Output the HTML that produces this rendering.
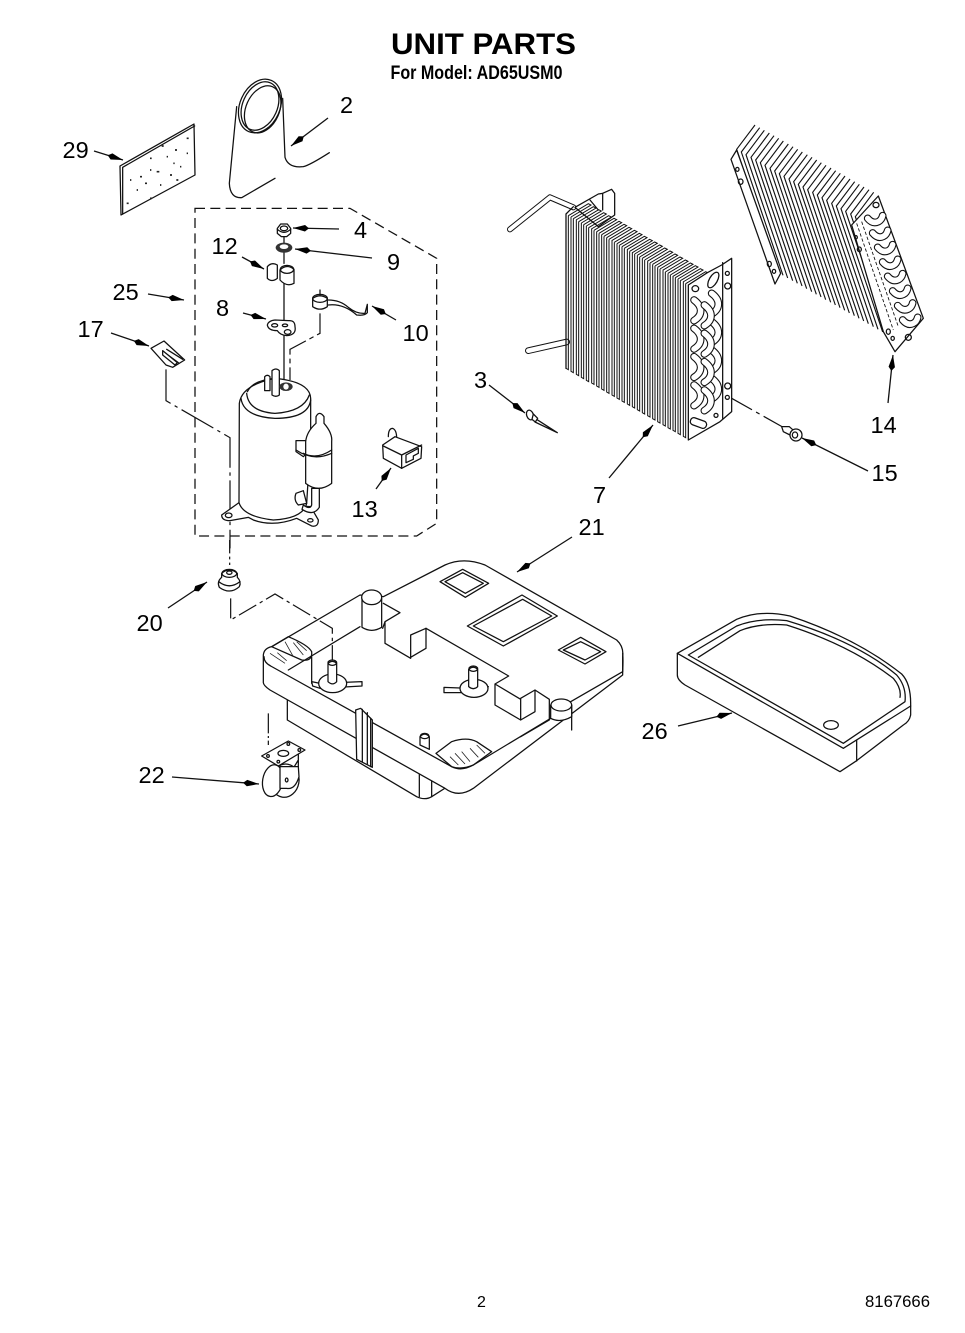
<!DOCTYPE html>
<html><head><meta charset="utf-8"><title>Unit Parts</title>
<style>
html,body{margin:0;padding:0;background:#fff;width:965px;height:1333px;overflow:hidden}
svg{display:block;filter:blur(.35px)}
text{font-family:"Liberation Sans",sans-serif;fill:#000}
.n{font-size:23.5px}
.d{fill:none;stroke:#111;stroke-width:3.8;stroke-linejoin:round;stroke-linecap:round}
.w{fill:#fff;stroke:#111;stroke-width:3.8;stroke-linejoin:round;stroke-linecap:round}
.a{fill:none;stroke:#111;stroke-width:1.3}
.l{fill:none;stroke:#111;stroke-width:3.6}
</style></head><body>
<svg xmlns="http://www.w3.org/2000/svg" width="965" height="1333" viewBox="0 0 965 1333">
<defs>
<marker id="h" markerUnits="userSpaceOnUse" markerWidth="18" markerHeight="10" refX="16" refY="5" orient="auto"><path d="M0 5 L4 1.8 L16 5 L4 8.2 Z" fill="#000"/></marker>
<path id="f7" d="M0 0 V463 l7 4 V5 M7 5 l60 -36 l8 4 l-60 36" fill="none" stroke="#111" stroke-width="3"/>
<path id="f14" d="M0 0 l-55 73 l125 370" fill="none" stroke="#111" stroke-width="3.4"/>
<g id="c"><path d="M0 0 Q20 15 20 32 Q20 50 0 62" fill="none" stroke="#111" stroke-width="23" stroke-linecap="round"/><path d="M0 0 Q20 15 20 32 Q20 50 0 62" fill="none" stroke="#fff" stroke-width="16.5" stroke-linecap="round"/></g>
<g id="k"><path d="M0 0 Q15 18 32 10 Q42 5 45 -8" fill="none" stroke="#111" stroke-width="23" stroke-linecap="round"/><path d="M0 0 Q15 18 32 10 Q42 5 45 -8" fill="none" stroke="#fff" stroke-width="16.5" stroke-linecap="round"/></g>
</defs>
<rect width="965" height="1333" fill="#fff"/>

<!-- headings -->
<text x="391" y="54" font-size="30" font-weight="700" textLength="185" lengthAdjust="spacingAndGlyphs">UNIT PARTS</text>
<text x="390.5" y="79" font-size="19" font-weight="700" textLength="172" lengthAdjust="spacingAndGlyphs">For Model: AD65USM0</text>
<text x="477" y="1307" font-size="16">2</text>
<text x="865" y="1307" font-size="16.5" textLength="65" lengthAdjust="spacingAndGlyphs">8167666</text>

<!-- ZONE 1 -->
<g transform="translate(40,70) scale(.33333)">
 <!-- hose -->
 <path class="d" d="M590 110 L568 340 Q570 385 605 383 L705 325"/>
 <path class="d" d="M728 85 L735 262 Q745 295 790 290 Q810 285 868 248"/>
 <ellipse class="w" cx="660" cy="108" rx="60" ry="84" transform="rotate(24 660 108)"/>
 <ellipse class="d" cx="668" cy="118" rx="50" ry="74" transform="rotate(24 668 118)"/>
 <ellipse class="d" cx="660" cy="108" rx="52" ry="76" transform="rotate(24 660 108)"/>
 <!-- panel 29 -->
 <path class="w" d="M240 288 L462 162 L465 315 L243 435 Z"/>
 <path class="d" d="M248 292 L464 168 M248 292 V432"/>
 <path d="M330 265h5M365 228h6M405 240h6M440 205h6M300 320h6M350 305h8M415 330h-6M260 400h6M330 385h6M390 315h6M440 250h4M290 360h4M360 345h4M400 280h4M315 340h6M420 290h4M270 330h4M330 300h4M380 260h4" stroke="#222" stroke-width="5" fill="none"/>
 <!-- dashed box -->
 <path d="M465 415 H930 L1190 565 V1360 L1130 1398 H465 Z" fill="none" stroke="#111" stroke-width="3.8" stroke-dasharray="30 16"/>
 <!-- rod and connectors -->
 <path class="d" d="M732 495 V580 M732 640 V930" stroke-width="5"/>
 <path class="l" d="M840 730 V790 L750 838 V930" stroke-dasharray="70 12 14 12"/>
 <path class="l" d="M378 898 V992 L570 1103 V1435" stroke-dasharray="110 14 10 14"/>
 <!-- nut 4 -->
 <path class="w" d="M712 475 L722 462 H742 L752 475 V490 L740 500 H724 L712 490 Z"/>
 <ellipse class="d" cx="732" cy="475" rx="11" ry="7"/>
 <path class="d" d="M712 478 Q732 496 752 478"/>
 <!-- washer 9 -->
 <ellipse cx="732" cy="533" rx="25" ry="15" fill="#333"/>
 <ellipse cx="732" cy="530" rx="13" ry="7" fill="#fff"/>
 <!-- 12 -->
 <path class="w" d="M682 590 Q695 575 712 585 V625 Q695 638 682 625 Z"/>
 <path class="w" d="M720 600 Q740 580 762 598 V640 Q740 652 720 630 Z"/>
 <ellipse class="d" cx="741" cy="598" rx="20" ry="12"/>
 <!-- 8 -->
 <path class="w" d="M682 765 Q685 752 705 750 L745 752 Q765 750 765 770 Q770 795 740 797 Q720 795 712 782 Q685 782 682 765 Z"/>
 <ellipse class="d" cx="704" cy="766" rx="9" ry="5"/><ellipse class="d" cx="735" cy="766" rx="8" ry="4"/><ellipse class="d" cx="743" cy="786" rx="10" ry="7"/>
 <!-- 10 -->
 <path class="d" d="M865 690 Q900 690 925 712 Q950 732 975 730 L982 703 V728 Q975 738 950 735 Q910 700 865 705" />
 <path class="w" d="M818 685 Q840 670 862 685 V710 Q840 725 818 710 Z"/>
 <ellipse class="d" cx="840" cy="685" rx="22" ry="12"/>
 <path class="d" d="M840 660 V675"/>
 <!-- 17 -->
 <path class="w" d="M333 835 L372 813 L434 870 L398 892 L378 885 Z"/>
 <path class="d" d="M370 845 L415 878 M380 838 L428 868"/>
 <path class="w" d="M368 842 V855 L405 885 L412 878 Z" stroke-width="3"/>
 <!-- compressor base -->
 <path class="w" d="M545 1335 L597 1298 L812 1310 L835 1350 Q835 1372 815 1368 L770 1345 Q700 1372 640 1350 L625 1342 L570 1352 Q545 1352 545 1335 Z"/>
 <ellipse class="d" cx="566" cy="1336" rx="10" ry="7"/><ellipse class="d" cx="811" cy="1351" rx="8" ry="5"/>
 <path class="w" d="M598 1000 Q605 945 705 925 Q810 935 812 985 V1105 L800 1300 Q790 1345 700 1350 Q610 1340 597 1298 Z"/>
 <path class="d" d="M603 985 Q610 1040 705 1045 Q805 1045 812 990"/>
 <path class="d" d="M620 970 Q625 1025 705 1030 Q790 1025 808 975"/>
 <path class="d" d="M622 965 Q640 930 705 925"/>
 <path class="w" d="M674 920 Q682 912 690 920 V962 H674 Z"/>
 <path class="w" d="M696 902 Q708 892 718 902 V975 Q708 983 696 975 Z"/>
 <ellipse cx="738" cy="950" rx="20" ry="13" fill="#333"/><ellipse cx="738" cy="950" rx="8" ry="9" fill="#fff"/>
 <!-- accumulator -->
 <path class="w" d="M815 1255 L815 1305 Q810 1320 790 1305 L786 1318 Q820 1340 838 1312 V1255 Z"/>
 <path class="w" d="M768 1270 L790 1262 L800 1300 L775 1305 Q760 1290 768 1270 Z"/>
 <path class="w" d="M768 1112 L800 1112 V1150 L790 1160 L768 1145 Z"/>
 <path class="w" d="M828 1040 Q838 1020 852 1040 V1060 Q878 1090 875 1115 V1240 Q835 1270 797 1240 V1115 Q800 1085 828 1060 Z"/>
 <path class="d" d="M768 1140 Q820 1175 875 1150 M790 1150 Q830 1170 875 1140"/>
 <!-- 13 plug -->
 <path class="d" d="M1045 1100 Q1045 1075 1058 1075 Q1070 1080 1070 1105"/>
 <path class="w" d="M1028 1125 L1065 1100 L1145 1130 L1143 1165 L1085 1195 L1030 1165 Z"/>
 <path class="d" d="M1030 1128 L1085 1155 L1145 1125 M1085 1155 V1195"/>
 <path class="d" d="M1098 1155 L1135 1135 V1150 L1120 1158 V1168 L1098 1178 Z"/>
</g>

<!-- ZONE 2 -->
<g transform="translate(470,110) scale(.33333)">
 <!-- tubes -->
 <path d="M120 358 L240 262 L310 292" fill="none" stroke="#111" stroke-width="18" stroke-linecap="round" stroke-linejoin="round"/>
 <path d="M120 358 L240 262 L310 292" fill="none" stroke="#fff" stroke-width="12" stroke-linecap="round" stroke-linejoin="round"/>
 <path d="M175 722 L290 696" fill="none" stroke="#111" stroke-width="20" stroke-linecap="round"/>
 <path d="M175 722 L290 696" fill="none" stroke="#fff" stroke-width="14" stroke-linecap="round"/>
 <!-- back brackets -->
 <path class="w" d="M315 292 L385 252 L398 250 L425 238 L434 250 V315 L385 350 Z"/>
 <path class="d" d="M360 270 L385 300 M398 250 V300"/>
 <!-- coil 7 fins -->
 <use href="#f7" x="288" y="312"/><use href="#f7" x="303" y="321"/><use href="#f7" x="319" y="330"/><use href="#f7" x="334" y="339"/><use href="#f7" x="349" y="348"/><use href="#f7" x="365" y="356"/><use href="#f7" x="380" y="365"/><use href="#f7" x="395" y="374"/><use href="#f7" x="410" y="383"/><use href="#f7" x="426" y="392"/><use href="#f7" x="441" y="401"/><use href="#f7" x="456" y="410"/><use href="#f7" x="472" y="419"/><use href="#f7" x="487" y="427"/><use href="#f7" x="502" y="436"/><use href="#f7" x="517" y="445"/><use href="#f7" x="533" y="454"/><use href="#f7" x="548" y="463"/><use href="#f7" x="563" y="472"/><use href="#f7" x="579" y="481"/><use href="#f7" x="594" y="490"/><use href="#f7" x="609" y="498"/><use href="#f7" x="624" y="507"/><use href="#f7" x="640" y="516"/>
 <path class="d" d="M288 775 V312 M288 312 L310 290"/>
 <!-- coil 7 end plate -->
 <path class="w" d="M655 525 L712 488 L755 465 L785 445 V905 L750 935 L655 990 Z"/>
 <path class="d" d="M758 458 V925"/>
 <ellipse class="d" cx="730" cy="510" rx="12" ry="26" transform="rotate(30 730 510)"/>
 <ellipse class="d" cx="676" cy="536" rx="10" ry="9"/><ellipse class="d" cx="772" cy="490" rx="6" ry="6"/><ellipse class="d" cx="773" cy="528" rx="9" ry="9"/>
 <ellipse class="d" cx="773" cy="828" rx="9" ry="9"/><ellipse class="d" cx="772" cy="862" rx="6" ry="6"/><ellipse class="d" cx="738" cy="916" rx="6" ry="6"/>
 <rect class="d" x="660" y="928" width="50" height="22" rx="10" transform="rotate(20 685 940)"/>
 <use href="#c" x="725" y="550"/><use href="#c" x="725" y="635"/><use href="#c" x="725" y="720"/><use href="#c" x="725" y="805"/>
 <use href="#c" x="672" y="570"/><use href="#c" x="672" y="655"/><use href="#c" x="672" y="740"/><use href="#c" x="672" y="825"/>
 <use href="#c" x="703" y="585"/><use href="#c" x="703" y="670"/><use href="#c" x="703" y="755"/><use href="#c" x="703" y="840"/>
 <!-- coil 14 fins -->
 <use href="#f14" x="855" y="45"/><use href="#f14" x="869" y="53"/><use href="#f14" x="883" y="61"/><use href="#f14" x="898" y="69"/><use href="#f14" x="912" y="77"/><use href="#f14" x="926" y="85"/><use href="#f14" x="940" y="93"/><use href="#f14" x="955" y="102"/><use href="#f14" x="969" y="110"/><use href="#f14" x="983" y="118"/><use href="#f14" x="997" y="126"/><use href="#f14" x="1012" y="134"/><use href="#f14" x="1026" y="142"/><use href="#f14" x="1040" y="150"/><use href="#f14" x="1054" y="158"/><use href="#f14" x="1068" y="166"/><use href="#f14" x="1083" y="174"/><use href="#f14" x="1097" y="182"/><use href="#f14" x="1111" y="190"/><use href="#f14" x="1125" y="198"/><use href="#f14" x="1140" y="207"/><use href="#f14" x="1154" y="215"/><use href="#f14" x="1168" y="223"/><use href="#f14" x="1182" y="231"/><use href="#f14" x="1197" y="239"/><use href="#f14" x="1211" y="247"/>
 <!-- left bracket -->
 <path class="w" d="M783 148 L800 120 L932 490 L915 522 Z"/>
 <ellipse class="d" cx="802" cy="178" rx="5" ry="6"/><ellipse class="d" cx="812" cy="215" rx="7" ry="8"/><ellipse class="d" cx="898" cy="462" rx="6" ry="8"/><ellipse class="d" cx="912" cy="484" rx="5" ry="6"/>
 <!-- right plate -->
 <path class="w" d="M1225 258 L1360 625 L1275 725 L1240 665 L1145 345 Z"/>
 <path d="M1160 340 L1270 660 M1175 335 L1285 650" fill="none" stroke="#111" stroke-width="2.6" stroke-dasharray="10 6"/>
 <ellipse class="d" cx="1218" cy="285" rx="9" ry="8"/><ellipse class="d" cx="1315" cy="682" rx="9" ry="9"/><ellipse class="d" cx="1255" cy="665" rx="6" ry="8"/><ellipse class="d" cx="1268" cy="685" rx="5" ry="6"/><ellipse class="d" cx="1158" cy="382" rx="4" ry="5"/><ellipse class="d" cx="1168" cy="418" rx="6" ry="7"/>
 <use href="#k" x="1193" y="325"/><use href="#k" x="1208" y="369"/><use href="#k" x="1223" y="412"/><use href="#k" x="1238" y="456"/><use href="#k" x="1253" y="499"/><use href="#k" x="1268" y="543"/><use href="#k" x="1283" y="587"/><use href="#k" x="1298" y="630"/>
 <!-- screw 3 -->
 <path class="d" d="M195 925 L262 968 L195 936"/>
 <ellipse class="w" cx="180" cy="915" rx="10" ry="15" transform="rotate(-20 180 915)"/>
 <path class="w" d="M190 912 L203 925 L196 936 L186 928 Z"/>
 <!-- screw 15 -->
 <path class="l" d="M785 865 L945 955" stroke-dasharray="70 14 12 14"/>
 <path class="w" d="M935 950 L958 950 L975 965 L960 975 L940 965 Z"/>
 <ellipse class="w" cx="978" cy="975" rx="18" ry="18"/>
 <ellipse class="d" cx="975" cy="975" rx="8" ry="9"/>
</g>

<!-- ZONE 3 pan -->
<g transform="translate(130,540) scale(.33333)">
 <path class="l" d="M299 0 V75" stroke-dasharray="40 10 8 10"/>
 <path class="l" d="M415 520 V615" stroke-dasharray="60 8 6 8"/>
 <!-- rubber foot 20 -->
 <path class="w" d="M275 100 Q298 80 322 100 V112 Q335 125 328 140 Q300 165 268 142 Q260 125 275 112 Z"/>
 <ellipse class="d" cx="298" cy="100" rx="22" ry="12"/><ellipse class="d" cx="298" cy="98" rx="8" ry="5"/>
 <path class="d" d="M266 125 Q298 150 330 125"/>
 <!-- under body -->
 <path class="w" d="M472 470 V540 L860 770 Q885 782 905 770 L960 735 L700 500 Z"/>
 <path class="d" d="M868 695 V770 M905 715 V770"/>
 <!-- pan -->
 <path class="w" d="M400 345 Q402 325 425 320 L690 165 L760 170 L945 75 Q1000 50 1065 75 L1460 300 Q1482 320 1478 350 V405 L1030 745 Q985 775 945 745 L420 450 Q398 435 400 425 Z"/>
 <path class="d" d="M402 350 Q402 368 422 378 L965 680 Q995 695 1030 675 L1325 497 V570"/>
 <path class="d" d="M1270 515 L1478 395 Q1480 360 1478 340"/>
 <path class="d" d="M545 350 V430 M475 390 L690 260"/>
 <path class="d" d="M425 320 L475 290 Q535 315 545 335 Q548 365 515 360 Z"/>
 <path d="M420 340 L465 370 M442 338 L470 362 M465 305 L490 350 M490 308 L520 345 M500 305 L530 332" fill="none" stroke="#222" stroke-width="2.4"/>
 <!-- leader to standoff -->
 <path class="l" d="M302 175 V240 L435 162 L607 265 V360" stroke-dasharray="60 12 10 12"/>
 <!-- inner well -->
 <path class="d" d="M758 265 L765 245 L810 218 L760 190 M765 245 V310 L842 355 V285 L888 265 V325 L842 352"/>
 <path class="d" d="M888 265 L1136 408 L1095 432 V495 L1172 540 V475 L1215 450 V515 L1172 540 M1095 432 L1172 478 M1215 450 L1258 478 V540 L1172 590"/>
 <!-- squares -->
 <path class="d" d="M930 125 L998 88 L1076 130 L1006 172 Z M945 125 L998 98 L1060 130 L1006 160 Z"/>
 <path class="d" d="M1012 258 L1176 165 L1282 228 L1120 318 Z M1030 258 L1178 178 L1265 228 L1120 305 Z"/>
 <path class="d" d="M1285 330 L1352 292 L1428 335 L1365 372 Z M1300 330 L1352 305 L1412 335 L1365 360 Z"/>
 <!-- post -->
 <path class="w" d="M696 175 V262 Q725 280 755 262 V175 Z"/>
 <ellipse class="w" cx="725" cy="172" rx="30" ry="22"/>
 <path class="w" d="M1262 495 V535 Q1290 550 1325 530 V495 Z"/>
 <ellipse class="w" cx="1294" cy="495" rx="31" ry="18"/>
 <!-- standoffs -->
 <path class="w" d="M545 425 L570 430 L696 425 V438 L570 445 L548 438 Z"/>
 <ellipse class="w" cx="608" cy="430" rx="42" ry="28"/>
 <path class="w" d="M594 370 Q608 358 620 370 V425 Q608 438 594 425 Z"/>
 <ellipse class="d" cx="607" cy="368" rx="13" ry="8"/>
 <path class="w" d="M942 442 L1020 445 L1075 440 L1060 458 H942 Z"/>
 <ellipse class="w" cx="1032" cy="445" rx="42" ry="27"/>
 <path class="w" d="M1016 388 Q1030 375 1043 388 V440 Q1030 452 1016 440 Z"/>
 <ellipse class="d" cx="1030" cy="386" rx="13" ry="8"/>
 <path class="w" d="M870 590 Q884 575 898 590 V628 L870 615 Z"/>
 <ellipse class="d" cx="884" cy="588" rx="13" ry="8"/>
 <!-- corner well front -->
 <path class="d" d="M918 640 L965 605 Q1010 590 1040 605 L1085 635 L1030 675 Q995 690 965 680 Z"/>
 <path d="M960 650 L985 675 M975 640 L1005 672 M995 635 L1020 665 M1020 625 L1045 652 M1040 615 L1065 640" fill="none" stroke="#222" stroke-width="2.4"/>
 <!-- strap -->
 <path class="w" d="M677 510 L692 505 L727 540 V682 L680 658 Z"/>
 <path class="d" d="M697 508 V665 M712 518 V672 M722 535 V680"/>
 <!-- caster -->
 <path class="d" d="M445 675 V730 M505 640 V720 M445 728 Q470 720 505 660"/>
 <ellipse class="w" cx="465" cy="722" rx="42" ry="50" transform="rotate(10 465 722)"/>
 <ellipse class="w" cx="428" cy="722" rx="30" ry="48" transform="rotate(10 428 722)"/>
 <path class="w" d="M450 680 H505 L507 710 Q495 750 470 745 L450 745 Z"/>
 <ellipse class="d" cx="470" cy="720" rx="4" ry="6"/>
 <path class="w" d="M395 648 L475 603 L525 630 L445 678 Z"/>
 <ellipse class="d" cx="460" cy="640" rx="16" ry="9"/>
 <circle class="d" cx="414" cy="648" r="4"/><circle class="d" cx="475" cy="612" r="4"/><circle class="d" cx="508" cy="630" r="4"/><circle class="d" cx="445" cy="665" r="4"/>
</g>

<!-- ZONE 4 drain pan -->
<g transform="translate(630,600) scale(.33333)">
 <path class="w" d="M142 160 L320 58 Q390 28 480 48 Q680 115 815 222 Q842 250 842 310 V345 Q838 365 820 375 L680 482 L630 515 L165 255 Q142 240 142 225 Z"/>
 <path class="d" d="M142 160 L640 445 L842 318"/>
 <path class="d" d="M175 165 L320 78 Q385 52 470 62 Q680 125 800 225 Q830 260 825 305 L640 430 Z" stroke-width="2.6"/>
 <path class="d" d="M205 172 L330 92 Q390 68 470 75 Q660 135 790 235 Q815 265 810 292" stroke-width="2"/>
 <path class="d" d="M680 420 V483" stroke-width="5"/>
 <ellipse class="d" cx="603" cy="375" rx="22" ry="13"/>
</g>

<!-- arrows -->
<g>
<line x1="328" y1="118" x2="291" y2="146" class="a" marker-end="url(#h)"/>
<line x1="94" y1="151" x2="123" y2="160" class="a" marker-end="url(#h)"/>
<line x1="339" y1="229" x2="293" y2="228" class="a" marker-end="url(#h)"/>
<line x1="372" y1="258" x2="295" y2="249" class="a" marker-end="url(#h)"/>
<line x1="242" y1="257" x2="264" y2="269" class="a" marker-end="url(#h)"/>
<line x1="148" y1="294" x2="184" y2="300" class="a" marker-end="url(#h)"/>
<line x1="243" y1="313" x2="266" y2="319" class="a" marker-end="url(#h)"/>
<line x1="396" y1="320" x2="372" y2="306" class="a" marker-end="url(#h)"/>
<line x1="111" y1="333" x2="149" y2="346" class="a" marker-end="url(#h)"/>
<line x1="376" y1="489" x2="391" y2="468" class="a" marker-end="url(#h)"/>
<line x1="489" y1="385" x2="525" y2="413" class="a" marker-end="url(#h)"/>
<line x1="609" y1="478" x2="653" y2="425" class="a" marker-end="url(#h)"/>
<line x1="888" y1="403" x2="893" y2="355" class="a" marker-end="url(#h)"/>
<line x1="868" y1="471" x2="802" y2="438" class="a" marker-end="url(#h)"/>
<line x1="572" y1="537" x2="517" y2="572" class="a" marker-end="url(#h)"/>
<line x1="168" y1="608" x2="207" y2="582" class="a" marker-end="url(#h)"/>
<line x1="172" y1="777" x2="259" y2="784" class="a" marker-end="url(#h)"/>
<line x1="678" y1="726" x2="732" y2="713" class="a" marker-end="url(#h)"/>
</g>

<!-- labels -->
<text class="n" x="340" y="113">2</text>
<text class="n" x="62.5" y="158">29</text>
<text class="n" x="354" y="238">4</text>
<text class="n" x="387" y="270">9</text>
<text class="n" x="211.5" y="254">12</text>
<text class="n" x="112.5" y="300">25</text>
<text class="n" x="216" y="316">8</text>
<text class="n" x="402.5" y="341">10</text>
<text class="n" x="77.5" y="337">17</text>
<text class="n" x="351.5" y="517">13</text>
<text class="n" x="474" y="388">3</text>
<text class="n" x="593" y="503">7</text>
<text class="n" x="870.5" y="433">14</text>
<text class="n" x="871.5" y="481">15</text>
<text class="n" x="578.5" y="535">21</text>
<text class="n" x="136.5" y="631">20</text>
<text class="n" x="138.5" y="783">22</text>
<text class="n" x="641.5" y="739">26</text>
</svg>
</body></html>
